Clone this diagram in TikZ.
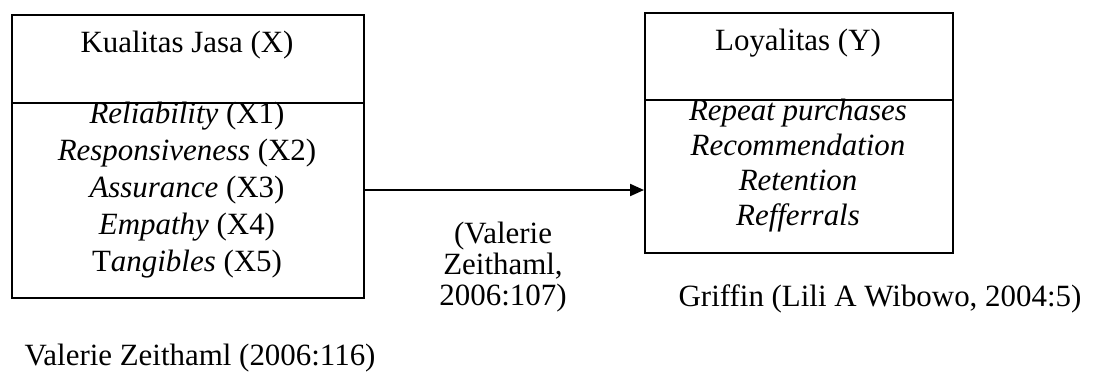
\documentclass[tikz,border=0pt]{standalone}
\usepackage{fontspec}
\setmainfont{Liberation Serif}
\usepackage{tikz}
\usetikzlibrary{arrows.meta, positioning}
\tikzset{
    varbox/.style={rectangle, draw, line width=1.2pt, anchor=north west, inner sep=0pt},
    divider/.style={line width=1.2pt},
    judul/.style={font=\fontsize{17.6pt}{21pt}\selectfont, align=center, inner sep=0pt},
    indikator/.style={align=center, inner sep=0pt},
    sumber/.style={font=\fontsize{17.6pt}{0.62cm}\selectfont, align=center, inner sep=0pt},
    arrow/.style={-{Triangle[length=0.28cm, width=0.24cm]}, line width=1.2pt}
}

\begin{document}
\begin{tikzpicture}[x=0.02cm, y=-0.02cm]
    \useasboundingbox (0,0) rectangle (1101,380);

    % Variable X box
    \node[varbox, minimum width=7.04cm, minimum height=5.66cm] (kualitas) at (11,14) {};
    \draw[divider] (kualitas.west |- 0,103) -- (kualitas.east |- 0,103);
    \node[judul] (kjudul) at (187,45) {Kualitas Jasa (X)};
    \node[indikator, font=\fontsize{17.6pt}{0.74cm}\selectfont] (kind) at (187,190) {\textit{Reliability} (X1)\\ \textit{Responsiveness} (X2)\\ \textit{Assurance} (X3)\\ \textit{Empathy} (X4)\\ T\textit{angibles} (X5)};

    % Variable Y box
    \node[varbox, minimum width=6.16cm, minimum height=4.8cm] (loyalitas) at (644,12) {};
    \draw[divider] (loyalitas.west |- 0,100) -- (loyalitas.east |- 0,100);
    \node[judul] (ljudul) at (798,43) {Loyalitas (Y)};
    \node[indikator, font=\fontsize{17.6pt}{0.7cm}\selectfont] (lind) at (798,166) {\textit{Repeat purchases}\\ \textit{Recommendation}\\ \textit{Retention}\\ \textit{Refferrals}};

    % Sources
    \node[sumber] (teori) at (503,267) {(Valerie\\ Zeithaml,\\ 2006:107)};
    \node[sumber] (griffin) at (880,299) {Griffin (Lili A Wibowo, 2004:5)};
    \node[sumber] (zeithaml) at (200,358) {Valerie Zeithaml (2006:116)};

    % Connection
    \draw[arrow] (kualitas.east |- 0,190) -- (loyalitas.west |- 0,190);
\end{tikzpicture}
\end{document}
